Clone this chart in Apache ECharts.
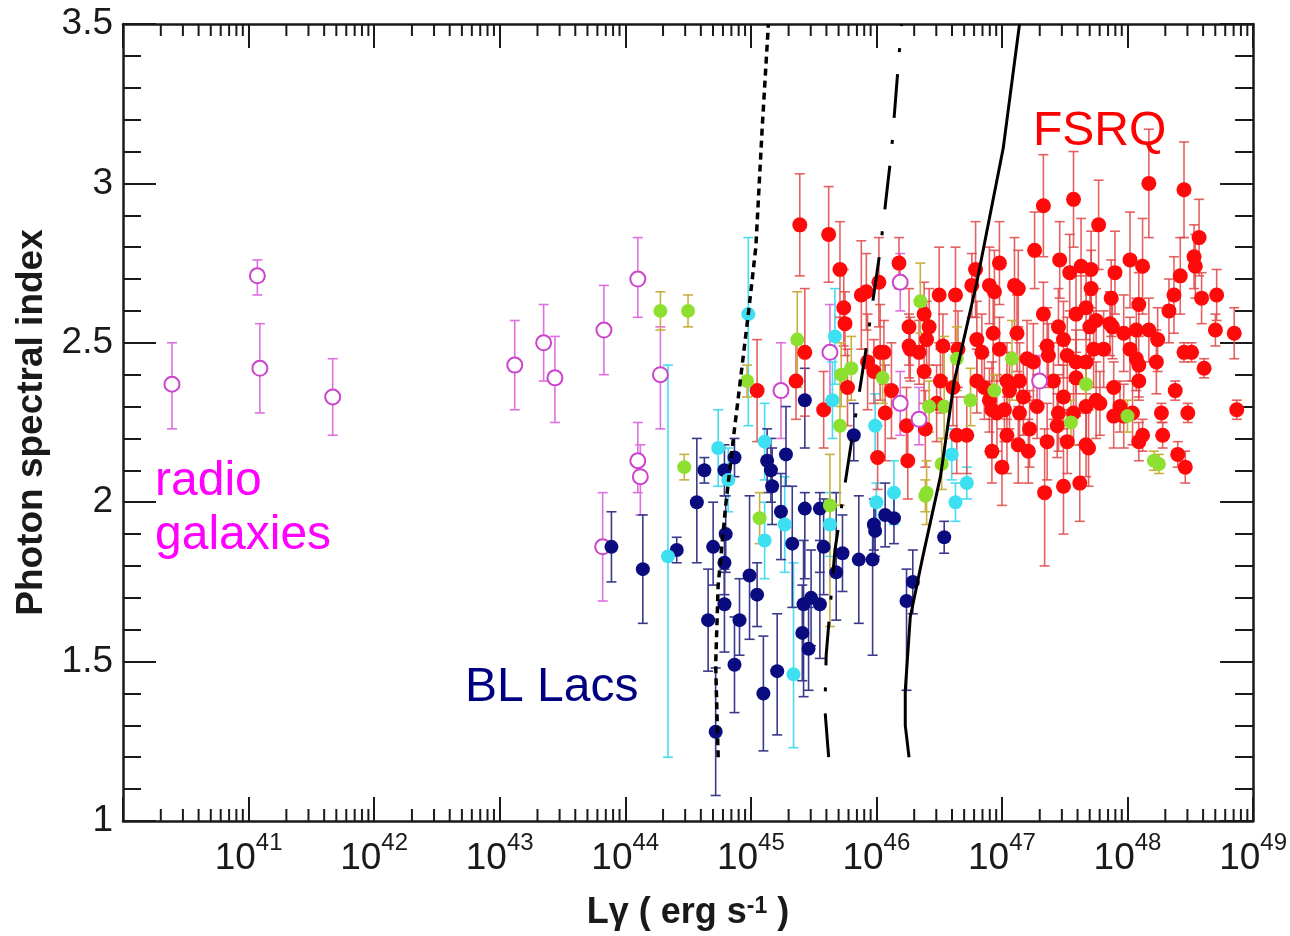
<!DOCTYPE html>
<html><head><meta charset="utf-8">
<script src="https://cdn.jsdelivr.net/npm/echarts@6/dist/echarts.min.js"></script>
<style>html,body{margin:0;padding:0;background:#fff}#c{width:1290px;height:936px}</style>
</head><body><div id="c"></div><script>
// ---- data: [log10 Lγ, photon index, errDown, errUp(optional)] ----
const xDecades = [40, 41, 42, 43, 44, 45, 46, 47, 48, 49];
const yTickValues = [1, 1.5, 2, 2.5, 3, 3.5];

const radioGal = [
[40.39,2.37,0.14,0.13],[41.07,2.71,0.06,0.05],[41.09,2.42,0.14,0.14],[41.67,2.33,0.12,0.12],
[43.12,2.43,0.14,0.14],[43.35,2.50,0.12,0.12],[43.44,2.39,0.14,0.13],[43.83,2.54,0.14,0.14],
[44.10,2.70,0.12,0.13],[44.28,2.40,0.17,0.15],[44.10,2.13,0.10,0.12],[44.12,2.08,0.12,0.10],
[43.82,1.86,0.17,0.17],[45.24,2.35,0.15],[45.63,2.47,0.15],[46.19,2.69,0.09],[46.19,2.31,0.10],
[46.34,2.26,0.08,0.10],[47.30,2.38,0.08]
];

const blLacs = [
[44.14,1.79,0.17],[44.41,1.85,0.04],[44.57,2.00,0.19,0.20],[44.63,2.10,0.04],[44.70,1.86,0.12,0.14],
[44.79,2.10,0.08],[44.87,2.14,0.06],[44.80,1.90,0.12],[44.79,1.81,0.10],[44.79,1.68,0.15,0.11],
[44.66,1.63,0.16],[44.91,1.63,0.11,0.13],[44.99,1.77,0.20,0.25],[45.05,1.71,0.10],[44.87,1.49,0.15],
[45.21,1.47,0.20,0.18],[45.10,1.40,0.18],[45.13,2.13,0.10],[45.16,2.10,0.10],[45.17,2.05,0.12],
[45.28,2.15,0.10,0.15],[45.24,1.97,0.15,0.12],[45.33,1.87,0.20,0.18],[45.43,1.98,0.22,0.05],[45.55,1.98,0.20,0.05],
[45.58,1.86,0.15],[45.42,1.68,0.29,0.20],[45.48,1.70,0.15],[45.55,1.68,0.17,0.20],[45.41,1.59,0.15],
[45.46,1.54,0.13],[45.68,1.78,0.15,0.25],[45.73,1.84,0.12],[45.86,1.82,0.20],[45.97,1.82,0.30,0.10],
[45.98,1.93,0.08],[45.99,1.91,0.08],[46.07,1.96,0.10],[46.14,1.95,0.08],[45.82,2.21,0.08,0.10],
[46.29,1.75,0.10],[46.24,1.69,0.28,0.10],[45.43,2.32,0.15,0.10],[43.89,1.86,0.11],[44.72,1.28,0.20],
[46.54,1.89,0.05]
];

const cyanSrc = [
[44.34,1.83,0.63,0.60],[44.98,2.59,0.35,0.24],[44.74,2.17,0.12],[44.82,2.07,0.10],[45.11,2.19,0.12],
[45.11,1.88,0.12],[45.27,1.93,0.15],[45.34,1.46,0.23,0.35],[45.63,1.93,0.10],[45.99,2.24,0.10],
[46.14,2.03,0.10],[46.00,2.00,0.06],[45.67,2.52,0.15],[45.65,2.32,0.12],[46.60,2.15,0.08],
[46.72,2.06,0.05],[46.63,2.00,0.06]
];

const greenSrc = [
[44.28,2.60,0.06],[44.50,2.60,0.05],[44.47,2.11,0.04],[44.97,2.38,0.05],[45.37,2.51,0.15],
[45.72,2.40,0.10],[45.80,2.42,0.10],[45.71,2.24,0.25,0.15],[45.63,1.99,0.38,0.16],[46.35,2.63,0.10,0.12],
[46.05,2.39,0.08],[46.64,2.45,0.10],[46.42,2.30,0.08],[46.54,2.30,0.10,0.22],[46.75,2.32,0.08,0.10],
[46.94,2.35,0.05],[46.40,2.03,0.10],[46.52,2.12,0.08],[47.08,2.45,0.13,0.12],[47.67,2.37,0.06],
[47.55,2.25,0.07],[48.00,2.27,0.05],[48.21,2.13,0.03],[48.25,2.12,0.03],[45.07,1.95,0.08],
[46.39,2.02,0.05]
];

const fsrq = [
[45.39,2.87,0.16],[45.62,2.84,0.15],[45.71,2.73,0.15],[45.74,2.61,0.12],[45.75,2.56,0.10],
[45.88,2.65,0.17],[45.92,2.66,0.12],[46.02,2.69,0.14],[46.18,2.75,0.08],[45.05,2.35,0.16],
[45.36,2.38,0.12],[45.43,2.47,0.20],[45.58,2.29,0.12],[45.77,2.36,0.12],[45.93,2.44,0.15],
[46.03,2.47,0.15],[46.26,2.55,0.12],[46.12,2.35,0.15],[46.07,2.28,0.15],[46.24,2.24,0.12],
[46.38,2.41,0.10],[45.98,2.41,0.10],[46.06,2.47,0.10],[46.50,2.65,0.15],[46.63,2.65,0.15],
[46.79,2.73,0.15],[46.76,2.68,0.10],[46.90,2.68,0.12],[46.42,2.55,0.12],[46.38,2.59,0.10],
[46.40,2.51,0.12],[46.27,2.48,0.10],[46.34,2.47,0.10],[46.39,2.23,0.12],[46.51,2.38,0.10],
[46.61,2.36,0.12],[46.01,2.14,0.10],[46.25,2.13,0.12],[46.84,2.47,0.12],[46.80,2.51,0.12],
[46.93,2.53,0.15],[46.86,2.36,0.10],[46.72,2.21,0.12],[46.64,2.21,0.12],[46.92,2.29,0.15],
[46.48,2.31,0.12],[46.98,2.75,0.13],[46.94,2.66,0.13],[47.10,2.68,0.15],[47.13,2.67,0.12],
[47.26,2.79,0.12],[47.33,2.93,0.16],[47.57,2.95,0.15],[47.77,2.87,0.14],[47.46,2.76,0.12],
[47.54,2.72,0.12],[47.63,2.74,0.15],[47.71,2.73,0.12],[47.90,2.72,0.13],[48.02,2.76,0.15],
[48.12,2.74,0.15],[48.17,3.00,0.17],[48.45,2.98,0.15],[48.57,2.83,0.12],[48.53,2.77,0.10],
[48.54,2.74,0.10],[48.42,2.71,0.12],[48.37,2.65,0.12],[48.33,2.60,0.10],[48.59,2.64,0.08],
[48.71,2.65,0.08],[48.70,2.54,0.05],[48.85,2.53,0.08],[48.45,2.47,0.03],[48.51,2.47,0.03],
[48.61,2.42,0.03],[48.38,2.35,0.03],[48.48,2.28,0.03],[48.87,2.29,0.03],[48.27,2.28,0.03],
[48.28,2.21,0.04],[48.12,2.21,0.05],[48.40,2.15,0.04],[48.46,2.11,0.05],[48.09,2.19,0.06],
[47.89,2.36,0.08],[48.09,2.38,0.06],[47.78,2.31,0.10],[47.94,2.30,0.08],[47.67,2.18,0.10],
[47.45,2.28,0.12],[47.44,2.24,0.10],[47.22,2.23,0.12],[47.13,2.18,0.12],[47.21,2.16,0.10],
[47.33,2.59,0.10],[47.45,2.55,0.12],[47.59,2.59,0.12],[47.49,2.51,0.12],[47.70,2.55,0.10],
[47.86,2.56,0.10],[47.97,2.53,0.12],[48.07,2.54,0.10],[48.17,2.54,0.10],[48.24,2.51,0.10],
[48.02,2.48,0.10],[47.73,2.48,0.12],[47.59,2.44,0.10],[47.37,2.46,0.10],[47.25,2.44,0.12],
[47.14,2.38,0.12],[47.06,2.35,0.12],[46.90,2.32,0.10],[46.96,2.28,0.12],[46.80,2.38,0.10],
[46.65,2.48,0.12],[46.53,2.49,0.10],[46.26,2.49,0.10],[47.34,2.03,0.23,0.20],[47.49,2.05,0.15],
[47.62,2.06,0.12],[47.97,2.27,0.10],[47.71,2.67,0.12],[47.87,2.64,0.12],[48.09,2.62,0.10],
[47.67,2.61,0.10],[47.88,2.55,0.10],[46.92,2.16,0.10],[47.00,2.11,0.12],
[47.12,2.53,0.12],[47.75,2.57,0.10],[47.36,2.49,0.12],[47.52,2.46,0.12],[47.67,2.44,0.10],
[47.81,2.48,0.12],[48.07,2.45,0.10],[47.20,2.45,0.12],[46.98,2.48,0.10],[47.04,2.38,0.12],
[47.17,2.33,0.12],[47.41,2.38,0.12],[47.49,2.33,0.10],[47.59,2.39,0.12],[47.75,2.32,0.12],
[47.57,2.28,0.10],[47.67,2.30,0.12],[47.02,2.29,0.10],[47.14,2.28,0.12],[47.28,2.30,0.10],
[47.04,2.21,0.12],[47.36,2.19,0.12],[47.52,2.19,0.10],[47.69,2.17,0.12],[47.89,2.27,0.10],
[48.04,2.28,0.10],[48.09,2.43,0.10],[48.23,2.44,0.10]
];

// model curves [log10 Lγ, photon index]
const dottedCurve = [[44.74,1.20],[44.72,1.49],[44.74,1.74],[44.80,1.99],[44.87,2.23],[44.91,2.36],[44.98,2.59],[45.04,2.80],[45.09,3.17],[45.14,3.50]];
const dashDotCurve = [[45.62,1.20],[45.59,1.35],[45.60,1.52],[45.67,1.85],[45.79,2.16],[45.91,2.46],[46.03,2.79],[46.12,3.10],[46.20,3.50]];
const solidCurve = [[46.26,1.20],[46.23,1.30],[46.23,1.41],[46.27,1.64],[46.37,1.83],[46.51,2.08],[46.62,2.38],[46.80,2.69],[47.01,3.11],[47.14,3.50]];

// ---- helpers ----
const L = v => Math.pow(10, v);
const toErr = arr => arr.map(d => [L(d[0]), d[1], d[2], d.length > 3 ? d[3] : d[2]]);
const toPts = arr => arr.map(d => [L(d[0]), d[1]]);
const toLine = arr => arr.map(d => [L(d[0]), d[1]]);
const minorTicks = [];
xDecades.slice(0, -1).forEach(e => { for (let k = 2; k <= 9; k++) minorTicks.push([k * L(e), 1]); });

const FONT = '"Liberation Sans", Arial, Helvetica, sans-serif';
const AX = '#1a1a1a';

function errSeries(arr, color, z) {
  return {
    type: 'custom', data: toErr(arr), z: z, silent: true, clip: true,
    encode: { x: 0, y: 1 },
    renderItem: (params, api) => {
      const x = api.value(0), y = api.value(1), lo = api.value(2), hi = api.value(3);
      const a = api.coord([x, y + hi]), b = api.coord([x, y - lo]);
      const w = 5;
      const st = { stroke: color, lineWidth: 1.6 };
      return { type: 'group', children: [
        { type: 'line', shape: { x1: a[0], y1: a[1], x2: b[0], y2: b[1] }, style: st },
        { type: 'line', shape: { x1: a[0] - w, y1: a[1], x2: a[0] + w, y2: a[1] }, style: st },
        { type: 'line', shape: { x1: b[0] - w, y1: b[1], x2: b[0] + w, y2: b[1] }, style: st }
      ]};
    }
  };
}
function ptSeries(arr, fill, border, size, z) {
  return {
    type: 'scatter', data: toPts(arr), z: z, symbol: 'circle', symbolSize: size, silent: true,
    itemStyle: { color: fill, borderColor: border, borderWidth: border ? 2 : 0, opacity: 1 }
  };
}
function curve(arr, type, width) {
  return {
    type: 'line', data: toLine(arr), showSymbol: false, z: 10, silent: true, clip: true,
    lineStyle: { color: '#000', width: width, type: type }
  };
}

const chart = echarts.init(document.getElementById('c'), null, { renderer: 'canvas' });
chart.setOption({
  animation: false,
  backgroundColor: '#fff',
  grid: { left: 123, right: 33, top: 24, bottom: 111 },
  xAxis: [{
    type: 'log', logBase: 10, min: L(xDecades[0]), max: L(xDecades[xDecades.length - 1]), splitNumber: 9,
    position: 'bottom',
    axisLine: { show: true, onZero: false, lineStyle: { color: AX, width: 2.5 } },
    axisTick: { show: true, inside: true, length: 24, lineStyle: { color: AX, width: 2 } },
    splitLine: { show: false },
    axisLabel: {
      margin: 10, color: AX,
      formatter: v => { const e = Math.round(Math.log10(v)); return e === xDecades[0] ? '' : '{b|10}{s|' + e + '}'; },
      rich: {
        b: { fontSize: 37, fontFamily: FONT, color: AX, lineHeight: 46, verticalAlign: 'bottom' },
        s: { fontSize: 24, fontFamily: FONT, color: AX, lineHeight: 22, verticalAlign: 'top' }
      }
    },
    name: 'Lγ ( erg s{s|-1} )', nameLocation: 'middle', nameGap: 74,
    nameTextStyle: {
      fontSize: 36, fontWeight: 'bold', fontFamily: FONT, color: AX,
      rich: { s: { fontSize: 23, fontWeight: 'bold', fontFamily: FONT, color: AX, verticalAlign: 'top', lineHeight: 20 } }
    }
  }, {
    type: 'log', logBase: 10, min: L(xDecades[0]), max: L(xDecades[xDecades.length - 1]), splitNumber: 9,
    position: 'top',
    axisLine: { show: true, onZero: false, lineStyle: { color: AX, width: 2.5 } },
    axisTick: { show: true, inside: true, length: 24, lineStyle: { color: AX, width: 2 } },
    axisLabel: { show: false }, splitLine: { show: false }
  }],
  yAxis: [{
    type: 'value', min: yTickValues[0], max: yTickValues[yTickValues.length - 1], interval: 0.5,
    position: 'left',
    axisLine: { show: true, onZero: false, lineStyle: { color: AX, width: 2.5 } },
    axisTick: { show: true, inside: true, length: 33, lineStyle: { color: AX, width: 2 } },
    minorTick: { show: true, splitNumber: 5, length: 18, lineStyle: { color: AX, width: 2 } },
    splitLine: { show: false },
    axisLabel: { fontSize: 37, fontFamily: FONT, color: AX, margin: 10, formatter: v => String(v) },
    name: 'Photon spectral index', nameLocation: 'middle', nameGap: 72,
    nameTextStyle: { fontSize: 37, fontWeight: 'bold', fontFamily: FONT, color: AX }
  }, {
    type: 'value', min: yTickValues[0], max: yTickValues[yTickValues.length - 1], interval: 0.5,
    position: 'right',
    axisLine: { show: true, onZero: false, lineStyle: { color: AX, width: 2.5 } },
    axisTick: { show: true, inside: true, length: 33, lineStyle: { color: AX, width: 2 } },
    minorTick: { show: true, splitNumber: 5, length: 18, lineStyle: { color: AX, width: 2 } },
    splitLine: { show: false }, axisLabel: { show: false }
  }],
  series: [
    {
      type: 'custom', data: minorTicks, silent: true, clip: false, z: 20,
      renderItem: (params, api) => {
        const v = api.value(0);
        const b = api.coord([v, yTickValues[0]]), t = api.coord([v, yTickValues[yTickValues.length - 1]]);
        const st = { stroke: AX, lineWidth: 2 };
        return { type: 'group', children: [
          { type: 'line', shape: { x1: b[0], y1: b[1], x2: b[0], y2: b[1] - 12 }, style: st },
          { type: 'line', shape: { x1: t[0], y1: t[1], x2: t[0], y2: t[1] + 12 }, style: st }
        ]};
      }
    },
    errSeries(radioGal, '#e070e0', 2),
    errSeries(cyanSrc, '#48dcee', 2),
    errSeries(blLacs, '#3a3a8c', 2),
    errSeries(fsrq, 'rgba(225,70,70,0.85)', 3),
    errSeries(greenSrc, '#c8b040', 3),
    ptSeries(fsrq, '#ff0a0a', null, 15, 4),
    ptSeries(radioGal, '#ffffff', '#cc44cc', 15, 5),
    ptSeries(blLacs, '#0b0b80', null, 14, 5),
    ptSeries(cyanSrc, '#3ce0f0', null, 14, 5),
    ptSeries(greenSrc, '#8ee030', null, 14, 5),
    curve(dottedCurve, [7, 5], 3.5),
    curve(dashDotCurve, [44, 22, 4, 22], 3),
    curve(solidCurve, 'solid', 3)
  ],
  graphic: [
    { type: 'text', left: 1033, top: 108, z: 30, style: { text: 'FSRQ', font: '48px ' + FONT, fill: '#ff0000' } },
    { type: 'text', left: 155, top: 458, z: 30, style: { text: 'radio', font: '48px ' + FONT, fill: '#ff00ff' } },
    { type: 'text', left: 155, top: 512, z: 30, style: { text: 'galaxies', font: '48px ' + FONT, fill: '#ff00ff' } },
    { type: 'text', left: 465, top: 664, z: 30, style: { text: 'BL Lacs', font: '48px ' + FONT, fill: '#000080' } }
  ]
});
</script></body></html>
